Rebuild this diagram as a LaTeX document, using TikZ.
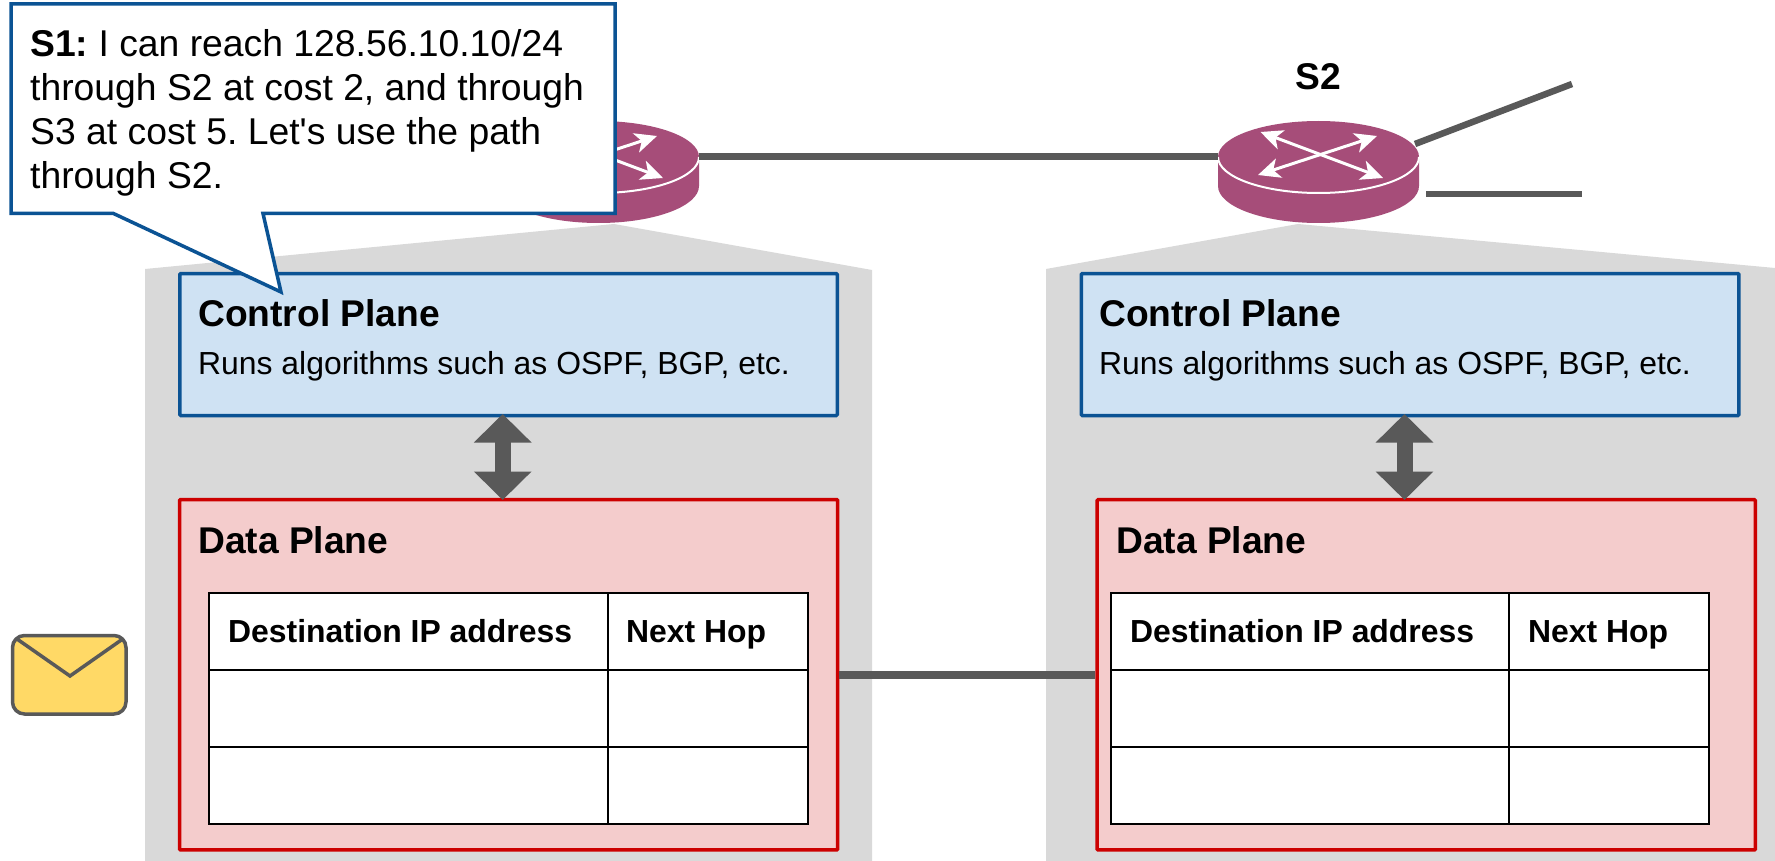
\documentclass[tikz,border=0pt]{standalone}
\usepackage{fontspec}
\setmainfont{Liberation Sans}[Ligatures=TeXOff]
\usetikzlibrary{arrows.meta,shapes.geometric}
\definecolor{housegray}{HTML}{D9D9D9}
\definecolor{linegray}{HTML}{595959}
\definecolor{cpfill}{HTML}{CFE2F3}
\definecolor{cpline}{HTML}{0B5394}
\definecolor{dpfill}{HTML}{F4CCCC}
\definecolor{dpline}{HTML}{CC0000}
\definecolor{routerc}{HTML}{A64D79}
\definecolor{mailfill}{HTML}{FFD966}
\newcommand{\fbig}{\fontsize{37.2}{44}\selectfont}
\newcommand{\fmid}{\fontsize{31.9}{38}\selectfont}
\newcommand{\fcall}{\fontsize{37.3}{44}\selectfont}
\frenchspacing
\tikzset{
 x=1pt,y=-1pt,
 house/.style={fill=housegray,draw=none},
 cpbox/.style={draw=cpline,fill=cpfill,line width=3.5pt,rounded corners=1pt,minimum width=657.5pt,minimum height=142pt,inner sep=0pt},
 dpbox/.style={draw=dpline,fill=dpfill,line width=3.5pt,rounded corners=1pt,minimum width=658.2pt,minimum height=350.3pt,inner sep=0pt},
 tbl/.style={draw=black,fill=white,line width=2pt,minimum width=598.4pt,minimum height=230.7pt,inner sep=0pt},
 tline/.style={draw=black,line width=2pt},
 link/.style={draw=linegray,line width=8pt},
 biarrow/.style={draw=linegray,line width=16pt,{Triangle[length=28.5pt,width=56pt]}-{Triangle[length=28.5pt,width=56pt]}},
 rtop/.style={ellipse,fill=routerc,draw=none,minimum width=201pt,minimum height=72pt,inner sep=0pt},
 rarrow/.style={draw=white,line width=3pt,{Stealth[length=22pt,width=20pt,inset=6pt]}-{Stealth[length=22pt,width=20pt,inset=6pt]}},
 big/.style={font=\fbig\bfseries,anchor=base west,inner sep=0pt},
 mid/.style={font=\fmid,anchor=base west,inner sep=0pt},
 midb/.style={font=\fmid\bfseries,anchor=base west,inner sep=0pt},
}
\begin{document}
\begin{tikzpicture}
\useasboundingbox (0,0) rectangle (1775,861);
\fill[white] (0,0) rectangle (1775,861);
% houses
\path[house] (145,861) -- (145,269) -- (614,224) -- (872,270) -- (872,861) -- cycle;
\path[house] (1046,861) -- (1046,269) -- (1298,224) -- (1775,268) -- (1775,861) -- cycle;
% routers
\foreach \n/\cx in {s1/598.5,s2/1318.5}{
  \fill[routerc] (\cx-100.5,157) -- (\cx-100.5,186) arc[start angle=180,end angle=0,x radius=100.5,y radius=37] -- (\cx+100.5,157) -- cycle;
  \node[rtop] (\n top) at (\cx,157) {};
  \draw[white,line width=2pt] (\cx-100.5,157) arc[start angle=180,end angle=0,x radius=100.5,y radius=36];
  \draw[rarrow] (\cx-58,132) -- (\cx+64.5,178);
  \draw[rarrow] (\cx+58.5,136) -- (\cx-60.5,175);
}
\draw[link,line width=7pt] (s1top.east) -- (s2top.west);
\coordinate (s2a) at (1415,144); \coordinate (s2ae) at (1572,84);
\coordinate (s2b) at (1426,194); \coordinate (s2be) at (1582,194);
\draw[link,line width=6.5pt] (s2a) -- (s2ae);
\draw[link,line width=6.5pt] (s2b) -- (s2be);
\node[font=\fbig\bfseries,inner sep=0pt] (s2label) at (1318,77) {S2};
% planes left
\node[cpbox] (cpL) at (508.5,344.5) {};
\node[dpbox] (dpL) at (508.6,674.8) {};
\node[big] (cpLt) at (198,326) {Control Plane};
\node[mid] (cpLs) at (198,374) {Runs algorithms such as OSPF, BGP, etc.};
\node[big] (dpLt) at (198,553) {Data Plane};
\node[tbl] (tL) at (508.5,708.3) {};
\coordinate (tLa) at (209.3,670); \coordinate (tLb) at (807.7,670);
\coordinate (tLc) at (209.3,746.7); \coordinate (tLd) at (807.7,746.7);
\coordinate (tLe) at (607.7,593); \coordinate (tLf) at (607.7,823.7);
\draw[tline] (tLa) -- (tLb); \draw[tline] (tLc) -- (tLd); \draw[tline] (tLe) -- (tLf);
\node[midb] (hLa) at (228,642) {Destination IP address};
\node[midb] (hLb) at (626,642) {Next Hop};
% planes right
\node[cpbox] (cpR) at (1410.2,344.5) {};
\node[dpbox] (dpR) at (1426.2,674.8) {};
\node[big] (cpRt) at (1099,326) {Control Plane};
\node[mid] (cpRs) at (1099,374) {Runs algorithms such as OSPF, BGP, etc.};
\node[big] (dpRt) at (1116,553) {Data Plane};
\node[tbl] (tR) at (1410.2,708.3) {};
\coordinate (tRa) at (1111,670); \coordinate (tRb) at (1709.4,670);
\coordinate (tRc) at (1111,746.7); \coordinate (tRd) at (1709.4,746.7);
\coordinate (tRe) at (1509.4,593); \coordinate (tRf) at (1509.4,823.7);
\draw[tline] (tRa) -- (tRb); \draw[tline] (tRc) -- (tRd); \draw[tline] (tRe) -- (tRf);
\node[midb] (hRa) at (1130,642) {Destination IP address};
\node[midb] (hRb) at (1528,642) {Next Hop};
% arrows
\coordinate (aLt) at (502.7,414); \coordinate (aLb) at (502.7,500);
\coordinate (aRt) at (1404.5,414); \coordinate (aRb) at (1404.5,500);
\draw[biarrow] (aLt) -- (aLb);
\draw[biarrow] (aRt) -- (aRb);
% data link
\draw[link] (dpL.east) -- (dpR.west);
% envelope
\draw[draw=linegray,fill=mailfill,line width=3.5pt,rounded corners=12pt] (12.5,635.5) rectangle (126,714);
\draw[draw=linegray,line width=3.5pt] (17,639) -- (70,676) -- (122.7,639);
% callout
\draw[draw=cpline,fill=white,line width=3.5pt,line join=miter] (11,4) -- (615,4) -- (615,213.5) -- (263,213.5) -- (281,292) -- (113.5,213.5) -- (11,213.5) -- cycle;
\node[font=\fcall,align=left,anchor=base west,inner sep=0pt] (calltext) at (30,189) {\textbf{S1:} I can reach 128.56.10.10/24\\through S2 at cost 2, and through\\S3 at cost 5. Let's use the path\\through S2.};
\end{tikzpicture}
\end{document}
